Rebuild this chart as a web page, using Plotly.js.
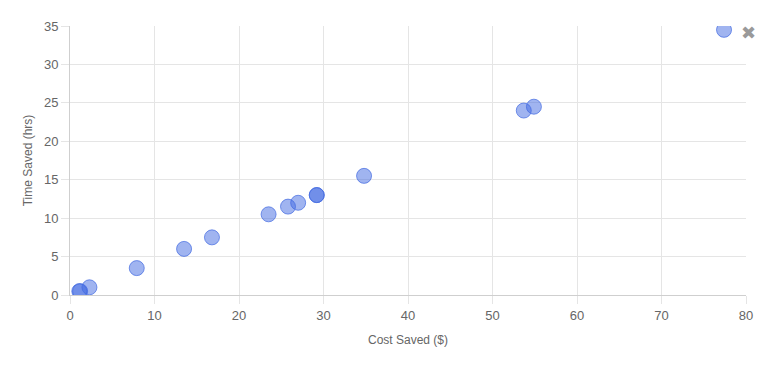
<!DOCTYPE html>
<html>
<head>
<meta charset="utf-8">
<script src="https://cdn.plot.ly/plotly-3.0.1.min.js"></script>
<style>html,body{margin:0;padding:0;background:#fff;}#chart{width:770px;height:378px;}</style>
</head>
<body>
<div id="chart"></div>
<script>
const costSaved = [1.1, 1.2, 2.3, 7.9, 13.5, 16.8, 23.5, 25.8, 27.0, 29.2, 29.2, 34.8, 53.7, 54.9, 77.4];
const timeSaved = [0.5, 0.5, 1.0, 3.5, 6.0, 7.5, 10.5, 11.5, 12.0, 13.0, 13.0, 15.5, 24.0, 24.5, 34.5];
const xTicks = [0, 10, 20, 30, 40, 50, 60, 70, 80];
const yTicks = [0, 5, 10, 15, 20, 25, 30, 35];

const trace = {
  x: costSaved,
  y: timeSaved,
  type: 'scatter',
  mode: 'markers',
  marker: {
    size: 15,
    color: 'rgba(65,105,225,0.5)',
    line: {color: 'rgba(65,105,225,0.7)', width: 1}
  },
  hoverinfo: 'x+y'
};

const axisCommon = {
  showgrid: true,
  gridcolor: '#e5e5e5',
  gridwidth: 1,
  zeroline: false,
  showline: true,
  linecolor: '#cfcfcf',
  linewidth: 1,
  ticks: 'outside',
  ticklen: 8,
  tickcolor: '#e5e5e5',
  tickfont: {family: 'Liberation Sans, Arial, sans-serif', size: 13, color: '#666'}
};

const layout = {
  width: 770,
  height: 378,
  margin: {l: 70, r: 24, t: 26, b: 83},
  paper_bgcolor: '#fff',
  plot_bgcolor: '#fff',
  showlegend: false,
  xaxis: Object.assign({}, axisCommon, {
    range: [0, 80],
    tickvals: xTicks,
    ticktext: xTicks.map(String),
    title: {text: 'Cost Saved ($)', font: {family: 'Liberation Sans, Arial, sans-serif', size: 12, color: '#666'}, standoff: 14}
  }),
  yaxis: Object.assign({}, axisCommon, {
    range: [0, 35],
    tickvals: yTicks,
    ticktext: yTicks.map(String),
    title: {text: 'Time Saved (hrs)', font: {family: 'Liberation Sans, Arial, sans-serif', size: 12, color: '#666'}, standoff: 8}
  }),
  annotations: [{
    xref: 'paper', yref: 'paper',
    x: 1.003, y: 0.975,
    xanchor: 'center', yanchor: 'middle',
    text: '✖', showarrow: false,
    font: {size: 18, color: '#9a9a9a', family: 'DejaVu Sans'}
  }]
};

Plotly.newPlot('chart', [trace], layout, {displayModeBar: false, responsive: false});
</script>
</body>
</html>
